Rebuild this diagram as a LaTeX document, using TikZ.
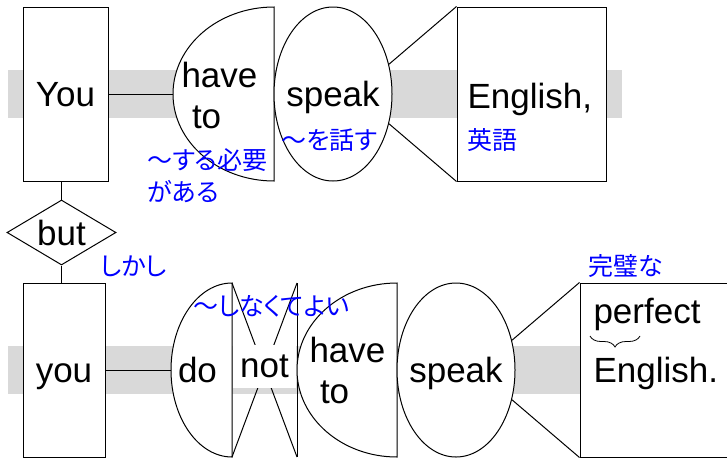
\documentclass[tikz,border=0pt]{standalone}
\usepackage{fontspec}
\setmainfont{Liberation Sans}
\newfontfamily\jpfont[RawFeature=+palt]{Noto Sans CJK JP}
\usetikzlibrary{shapes.geometric,decorations.pathreplacing}

\begin{document}
\begin{tikzpicture}[x=1pt, y=-1pt, line width=1pt,
    word/.style={font=\fontsize{35}{41}\selectfont, text height=25pt, text depth=0pt, inner sep=0pt},
    words/.style={font=\fontsize{35}{41}\selectfont, align=left, inner sep=0pt, anchor=north west},
    gloss/.style={font=\jpfont\fontsize{25}{32}\selectfont, text=blue, align=left, inner sep=0pt, anchor=west},
    box/.style={rectangle, draw, fill=white, minimum height=174pt, inner sep=0pt},
    oval/.style={ellipse, draw, fill=white, minimum width=118pt, minimum height=174pt, inner sep=0pt},
    band/.style={fill=black!15}]

\useasboundingbox (0,0) rectangle (727,458);

% grey bands behind both clauses
\fill[band] (8,70) rectangle (622,118);
\fill[band] (8,346) rectangle (580,394);

% first clause
\node[box, word, minimum width=85pt] (You) at (65.5,94) {You};
\draw[fill=white] (274,7) arc[start angle=90, end angle=180, x radius=101pt, y radius=87pt] coordinate (have1w)
    arc[start angle=180, end angle=270, x radius=101pt, y radius=87pt] -- cycle;
\node[words] (have1) at (181,62) {have\\\hspace*{0.3em}to};
\node[oval, label={[word]center:speak}] (speak1) at (333,94) {};
\node[box, minimum width=149pt] (Eng1) at (531.5,94) {};
\node[word, anchor=base west] (english1) at (467,108) {English,};

% connect the first clause
\draw (You) -- (have1w);
\draw (speak1.28) -- (Eng1.north west);
\draw (speak1.-28) -- (Eng1.south west);

% conjunction between the clauses
\node[diamond, draw, fill=white, aspect=1.68, minimum width=109pt, minimum height=65pt, inner sep=0pt,
    label={[word]center:but}] (but) at (61.5,232.5) {};
\draw (but.north) -- (but.north |- You.south);

% second clause
\node[box, word, minimum width=82pt] (you) at (64,370) {you};
\draw (but.south) -- (but.south |- you.north);
\draw[fill=white] (232,283) arc[start angle=90, end angle=180, x radius=61pt, y radius=87pt] coordinate (do2w)
    arc[start angle=180, end angle=270, x radius=61pt, y radius=87pt] -- cycle;
\node[word] (do) at (197.5,370) {do};

% the crossed out "not"
\draw (232,283) -- (297,457);
\draw (297,283) -- (232,457);
\node[word, fill=white, minimum width=63pt, minimum height=43pt, text height=21pt] (not) at (264.5,366.5) {not};
\draw (297,283) -- (297,457);

\draw[fill=white] (397,283) arc[start angle=90, end angle=180, x radius=100pt, y radius=87pt] coordinate (have2w)
    arc[start angle=180, end angle=270, x radius=100pt, y radius=87pt] -- cycle;
\node[words] (have2) at (309,337) {have\\\hspace*{0.3em}to};
\node[oval, label={[word]center:speak}] (speak2) at (456,370) {};
\node[box, minimum width=180pt] (perf) at (670,370) {};
\node[word, anchor=base west] (perfect) at (593,323) {perfect};
\node[word, anchor=base west] (english2) at (593,382) {English.};
\draw[line width=0.8pt, decorate, decoration={brace, mirror, amplitude=11pt}] (590,336) -- (640,336);

% connect the second clause
\draw (you) -- (do2w);
\draw (speak2.28) -- (perf.north west);
\draw (speak2.-28) -- (perf.south west);

% japanese glosses
\node[gloss] (g-have1) at (147,176) {〜する必要\\がある};
\node[gloss] (g-speak1) at (281,140) {〜を話す};
\node[gloss] (g-english1) at (467,140) {英語};
\node[gloss] (g-but) at (100,266) {しかし};
\node[gloss] (g-not) at (193,306) {〜しなくてよい};
\node[gloss] (g-perfect) at (588,266) {完璧な};

\end{tikzpicture}
\end{document}
